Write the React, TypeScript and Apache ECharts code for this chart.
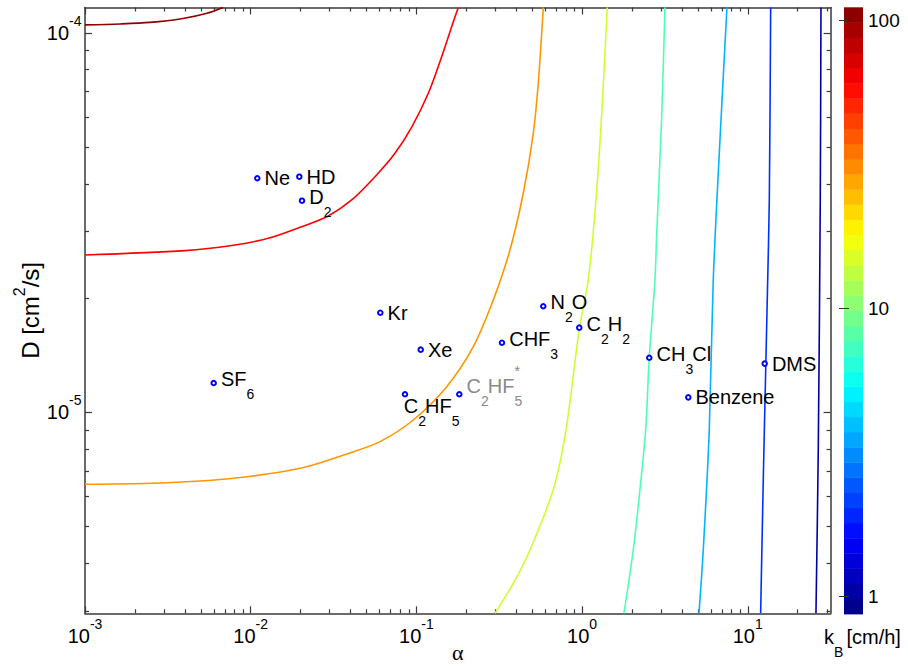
import React, { useEffect, useRef } from 'react';
import * as echarts from 'echarts';

const FONT = '"Liberation Sans", Arial, Helvetica, sans-serif';
const AXIS_COLOR = '#3a3a3a';

// ---- axes ----
const xMin = 0.001;
const xMax = 31.62;
const yMin = 2.957e-6;
const yMax = 1.167e-4;
const xMajorTicks = [0.001, 0.01, 0.1, 1, 10];
const xMajorExps = ['-3', '-2', '-1', '0', '1'];
const yMajorTicks = [1e-5, 1e-4];
const yMajorExps = ['-5', '-4'];
const minorMantissas = [2, 3, 4, 5, 6, 7, 8, 9];
const xDecades = [0.001, 0.01, 0.1, 1, 10];
const yDecades = [1e-6, 1e-5, 1e-4];

// ---- colour bar ----
const cbMin = 0.866;
const cbMax = 110.7;
const cbBandCount = 40;
const cbTicks = [1, 10, 100];

// ---- gases ----
const gasNames = ['Ne', 'HD', 'D2', 'Kr', 'Xe', 'SF6', 'C2HF5', 'C2HF5*', 'CHF3', 'N2O', 'C2H2', 'CH3Cl', 'Benzene', 'DMS'];
const gasLabels = [
  '{t|Ne}', '{t|HD}', '{t|D}{sub|2}', '{t|Kr}', '{t|Xe}', '{t|SF}{sub|6}',
  '{t|C}{sub|2}{t|HF}{sub|5}', '{gt|C}{gsub|2}{gt|HF}{gsup|*}{gsub|5}',
  '{t|CHF}{sub|3}', '{t|N}{sub|2}{t|O}', '{t|C}{sub|2}{t|H}{sub|2}', '{t|CH}{sub|3}{t|Cl}',
  '{t|Benzene}', '{t|DMS}',
];
const gasAlpha = [0.01096, 0.01965, 0.0204, 0.06058, 0.1062, 0.005979, 0.08536, 0.1815, 0.3285, 0.5833, 0.9618, 2.544, 4.375, 12.65];
const gasD = [4.141e-5, 4.181e-5, 3.615e-5, 1.832e-5, 1.464e-5, 1.196e-5, 1.117e-5, 1.117e-5, 1.527e-5, 1.905e-5, 1.673e-5, 1.394e-5, 1.096e-5, 1.345e-5];

// label placement (style)
const gasLabelPlacement: any[] = [
  { position: 'right', offset: [0, 0] },
  { position: 'right', offset: [0, 0] },
  { position: 'right', offset: [0, -4] },
  { position: 'right', offset: [0, 0] },
  { position: 'right', offset: [0, 0] },
  { position: 'right', offset: [0, -4] },
  { position: [2, -7], offset: [0, 0] },
  { position: 'right', offset: [0, -8] },
  { position: 'right', offset: [0, -4] },
  { position: 'right', offset: [0, -4] },
  { position: 'right', offset: [0, -4] },
  { position: 'right', offset: [0, -4] },
  { position: 'right', offset: [0, 0] },
  { position: 'right', offset: [0, 0] },
];

// ---- contour lines of k_B [alpha, D] ----
const contourDarkRed = [[0.001, 1.05e-4], [0.001626, 1.056e-4], [0.002468, 1.066e-4], [0.003903, 1.092e-4], [0.005448, 1.127e-4], [0.006804, 1.167e-4]];
const contourRed = [[0.001, 2.6e-5], [0.004013, 2.669e-5], [0.00804, 2.763e-5], [0.01277, 2.877e-5], [0.02032, 3.087e-5], [0.0294, 3.294e-5], [0.0407, 3.63e-5], [0.05626, 4.181e-5], [0.07428, 4.819e-5], [0.09406, 5.664e-5], [0.118, 6.935e-5], [0.1421, 8.66e-5], [0.1633, 1.039e-4], [0.179, 1.167e-4]];
const contourOrange = [[0.001, 6.469e-6], [0.003112, 6.531e-6], [0.007852, 6.708e-6], [0.01984, 7.129e-6], [0.03975, 7.823e-6], [0.06031, 8.378e-6], [0.09579, 9.554e-6], [0.1524, 1.1695e-5], [0.2205, 1.491e-5], [0.2911, 1.979e-5], [0.3672, 2.681e-5], [0.4417, 3.781e-5], [0.5076, 5.441e-5], [0.5441, 7.37e-5], [0.5833, 1.167e-4]];
const contourYellowGreen = [[0.2981, 2.957e-6], [0.3845, 3.547e-6], [0.4849, 4.343e-6], [0.6703, 6.263e-6], [0.7994, 8.992e-6], [0.9645, 1.67e-5], [1.09, 2.235e-5], [1.213, 3.63e-5], [1.318, 6.267e-5], [1.419, 1.167e-4]];
const contourGreen = [[1.79, 2.957e-6], [2.037, 4.342e-6], [2.236, 6.264e-6], [2.42, 8.993e-6], [2.544, 1.394e-5], [2.754, 2.235e-5], [2.82, 2.936e-5], [3.022, 5.987e-5], [3.164, 1.167e-4]];
const contourLightBlue = [[5.076, 2.957e-6], [5.388, 4.342e-6], [5.857, 8.993e-6], [6.191, 2.235e-5], [6.795, 5.225e-5], [7.489, 1.167e-4]];
const contourBlue = [[11.96, 2.957e-6], [12.44, 7.055e-6], [12.79, 1.218e-5], [13.15, 2.102e-5], [13.49, 3.63e-5], [13.75, 1.167e-4]];
const contourDarkBlue = [[25.8, 2.957e-6], [26.64, 7.964e-6], [27.39, 3.63e-5], [27.66, 1.167e-4]];

const contours = [contourDarkRed, contourRed, contourOrange, contourYellowGreen, contourGreen, contourLightBlue, contourBlue, contourDarkBlue];
const contourColors = ['#8f0000', '#ff0000', '#ff9600', '#ccff33', '#4dffb2', '#00b4ff', '#0030ff', '#0000a4'];

function jet(f: number): string {
  const c = (v: number) => Math.max(0, Math.min(1, v));
  const r = c(1.5 - Math.abs(4 * f - 3));
  const g = c(1.5 - Math.abs(4 * f - 2));
  const b = c(1.5 - Math.abs(4 * f - 1));
  return `rgb(${Math.round(r * 255)},${Math.round(g * 255)},${Math.round(b * 255)})`;
}

const cbColors: string[] = [];
const cbBands: number[][] = [];
for (let i = 0; i < cbBandCount; i++) {
  const lo = cbMin * Math.pow(cbMax / cbMin, i / cbBandCount);
  const hi = cbMin * Math.pow(cbMax / cbMin, (i + 1) / cbBandCount);
  cbColors.push(jet((i + 0.5) / cbBandCount));
  cbBands.push([0.5, lo, hi, i]);
}

const minorTicks = (decades: number[], lo: number, hi: number) =>
  decades.flatMap((d) => minorMantissas.map((m) => m * d)).filter((v) => v >= lo * 0.999 && v <= hi * 1.001);

const xMinor = minorTicks(xDecades, xMin, xMax);
const yMinor = minorTicks(yDecades, yMin, yMax);

const tickRich = {
  t: { fontFamily: FONT, fontSize: 20, lineHeight: 38, color: '#000' },
  sup: { fontFamily: FONT, fontSize: 14, lineHeight: 20, verticalAlign: 'top', color: '#000' },
};

const expLabel = (ticks: number[], exps: string[]) => (v: number) => {
  const i = ticks.findIndex((t) => Math.abs(t - v) / t < 1e-6);
  return i < 0 ? '' : `{t|10}{sup|${exps[i]}}`;
};

const labelRich = {
  t: { fontFamily: FONT, fontSize: 20, fontWeight: 'normal', lineHeight: 44, color: '#000' },
  sub: { fontFamily: FONT, fontSize: 14, fontWeight: 'normal', lineHeight: 26, width: 6.9, verticalAlign: 'bottom', color: '#000' },
  gt: { fontFamily: FONT, fontSize: 20, fontWeight: 'normal', lineHeight: 44, color: '#8a8a8a' },
  gsub: { fontFamily: FONT, fontSize: 14, fontWeight: 'normal', lineHeight: 26, width: 6.9, verticalAlign: 'bottom', color: '#8a8a8a' },
  gsup: { fontFamily: FONT, fontSize: 14, fontWeight: 'normal', lineHeight: 20, verticalAlign: 'top', color: '#8a8a8a', width: 0.001 },
};

const GRID = { left: 85, top: 7.5, width: 745.6, height: 605.8 };

function baseLogAxis(extra: any) {
  return {
    type: 'log',
    logBase: 10,
    splitLine: { show: false },
    minorTick: { show: false },
    minorSplitLine: { show: false },
    ...extra,
  };
}

export default function App() {
  const ref = useRef<HTMLDivElement>(null);
  useEffect(() => {
    if (!ref.current) return;
    const chart = echarts.init(ref.current, undefined, { renderer: 'svg' });
    const lineAxis = { show: true, lineStyle: { color: AXIS_COLOR, width: 1.5 } };
    const majorTickX = { show: true, inside: true, length: 7, customValues: xMajorTicks, lineStyle: { color: AXIS_COLOR, width: 1.2 } };
    const minorTickX = { show: true, inside: true, length: 4, customValues: xMinor, lineStyle: { color: AXIS_COLOR, width: 1.2 } };
    const majorTickY = { show: true, inside: true, length: 7, customValues: yMajorTicks, lineStyle: { color: AXIS_COLOR, width: 1.2 } };
    const minorTickY = { show: true, inside: true, length: 4, customValues: yMinor, lineStyle: { color: AXIS_COLOR, width: 1.2 } };

    const option: any = {
      animation: false,
      backgroundColor: '#fff',
      title: [{
        text: '{t|k}{sub|B}{t| [cm/h]}',
        left: 824,
        top: 614.7,
        padding: 0,
        textStyle: { fontWeight: 'normal', fontFamily: FONT, fontSize: 20, color: '#000', rich: labelRich },
      }],
      grid: [
        { ...GRID, containLabel: false, outerBoundsMode: 'none' },
        { ...GRID, containLabel: false, outerBoundsMode: 'none' },
        { left: 844, top: 7.3, width: 19, height: 606.7, containLabel: false, outerBoundsMode: 'none' },
      ],
      xAxis: [
        baseLogAxis({
          gridIndex: 0, position: 'bottom', min: xMin, max: xMax,
          axisLine: lineAxis, axisTick: majorTickX,
          axisLabel: { show: true, customValues: xMajorTicks, margin: 3.5, formatter: expLabel(xMajorTicks, xMajorExps), rich: tickRich },
          name: 'α', nameLocation: 'middle', nameGap: 28, nameMoveOverlap: false,
          nameTextStyle: { fontFamily: '"Liberation Serif", "DejaVu Serif", serif', fontSize: 22, lineHeight: 22, color: '#000' },
        }),
        baseLogAxis({
          gridIndex: 0, position: 'top', min: xMin, max: xMax,
          axisLine: lineAxis, axisTick: majorTickX, axisLabel: { show: false },
        }),
        baseLogAxis({
          gridIndex: 1, position: 'bottom', min: xMin, max: xMax,
          axisLine: { show: false }, axisTick: minorTickX, axisLabel: { show: false },
        }),
        baseLogAxis({
          gridIndex: 1, position: 'top', min: xMin, max: xMax,
          axisLine: { show: false }, axisTick: minorTickX, axisLabel: { show: false },
        }),
        {
          type: 'value', gridIndex: 2, min: 0, max: 1, show: false,
        },
      ],
      yAxis: [
        baseLogAxis({
          gridIndex: 0, position: 'left', min: yMin, max: yMax,
          axisLine: lineAxis, axisTick: majorTickY,
          axisLabel: { show: true, customValues: yMajorTicks, margin: 3.5, formatter: expLabel(yMajorTicks, yMajorExps), rich: tickRich },
          name: '{t|D [cm}{sup|2}{t|/s]}', nameLocation: 'middle', nameGap: 36, nameMoveOverlap: false,
          nameTextStyle: {
            rich: {
              t: { fontFamily: FONT, fontSize: 24, lineHeight: 38, color: '#000' },
              sup: { fontFamily: FONT, fontSize: 16, lineHeight: 22, verticalAlign: 'top', color: '#000' },
            },
          },
        }),
        baseLogAxis({
          gridIndex: 0, position: 'right', min: yMin, max: yMax,
          axisLine: lineAxis, axisTick: majorTickY, axisLabel: { show: false },
        }),
        baseLogAxis({
          gridIndex: 1, position: 'left', min: yMin, max: yMax,
          axisLine: { show: false }, axisTick: minorTickY, axisLabel: { show: false },
        }),
        baseLogAxis({
          gridIndex: 1, position: 'right', min: yMin, max: yMax,
          axisLine: { show: false }, axisTick: minorTickY, axisLabel: { show: false },
        }),
        baseLogAxis({
          gridIndex: 2, position: 'right', min: cbMin, max: cbMax,
          axisLine: { show: false },
          axisTick: { show: true, inside: true, length: 5, customValues: cbTicks, lineStyle: { color: '#333', width: 1 } },
          axisLabel: { show: true, customValues: cbTicks, margin: 5, fontFamily: FONT, fontSize: 19, color: '#000', formatter: (v: number) => String(Math.round(v)) },
          z: 10,
        }),
        baseLogAxis({
          gridIndex: 2, position: 'left', min: cbMin, max: cbMax,
          axisLine: { show: false },
          axisTick: { show: true, inside: true, length: 5, customValues: cbTicks, lineStyle: { color: '#333', width: 1 } },
          axisLabel: { show: false },
          z: 10,
        }),
      ],
      series: [
        ...contours.map((pts, i) => ({
          type: 'line',
          xAxisIndex: 0,
          yAxisIndex: 0,
          data: pts,
          showSymbol: false,
          smooth: 0.3,
          clip: true,
          lineStyle: { color: contourColors[i], width: 1.6 },
          z: 2,
          silent: true,
        })),
        {
          type: 'scatter',
          xAxisIndex: 0,
          yAxisIndex: 0,
          symbol: 'circle',
          symbolSize: 4.5,
          itemStyle: { color: '#ffffff', borderColor: '#0000ff', borderWidth: 2, opacity: 1 },
          label: { show: true, distance: 4, rich: labelRich, color: '#000' },
          z: 5,
          data: gasNames.map((n, i) => ({
            name: n,
            value: [gasAlpha[i], gasD[i]],
            label: { formatter: gasLabels[i], position: gasLabelPlacement[i].position, offset: gasLabelPlacement[i].offset },
          })),
        },
        {
          type: 'custom',
          xAxisIndex: 4,
          yAxisIndex: 4,
          encode: { x: 0, y: [1, 2] },
          data: cbBands,
          z: 1,
          silent: true,
          renderItem: (_p: any, api: any) => {
            const top = api.coord([0, api.value(2)]);
            const bot = api.coord([1, api.value(1)]);
            return {
              type: 'rect',
              shape: { x: top[0], y: top[1], width: bot[0] - top[0], height: bot[1] - top[1] + 0.4 },
              style: { fill: cbColors[api.value(3)] },
            };
          },
        },
      ],
    };
    chart.setOption(option);
    return () => chart.dispose();
  }, []);
  return <div ref={ref} style={{ position: 'fixed', left: 0, top: 0, width: 908, height: 668, background: '#fff' }} />;
}
